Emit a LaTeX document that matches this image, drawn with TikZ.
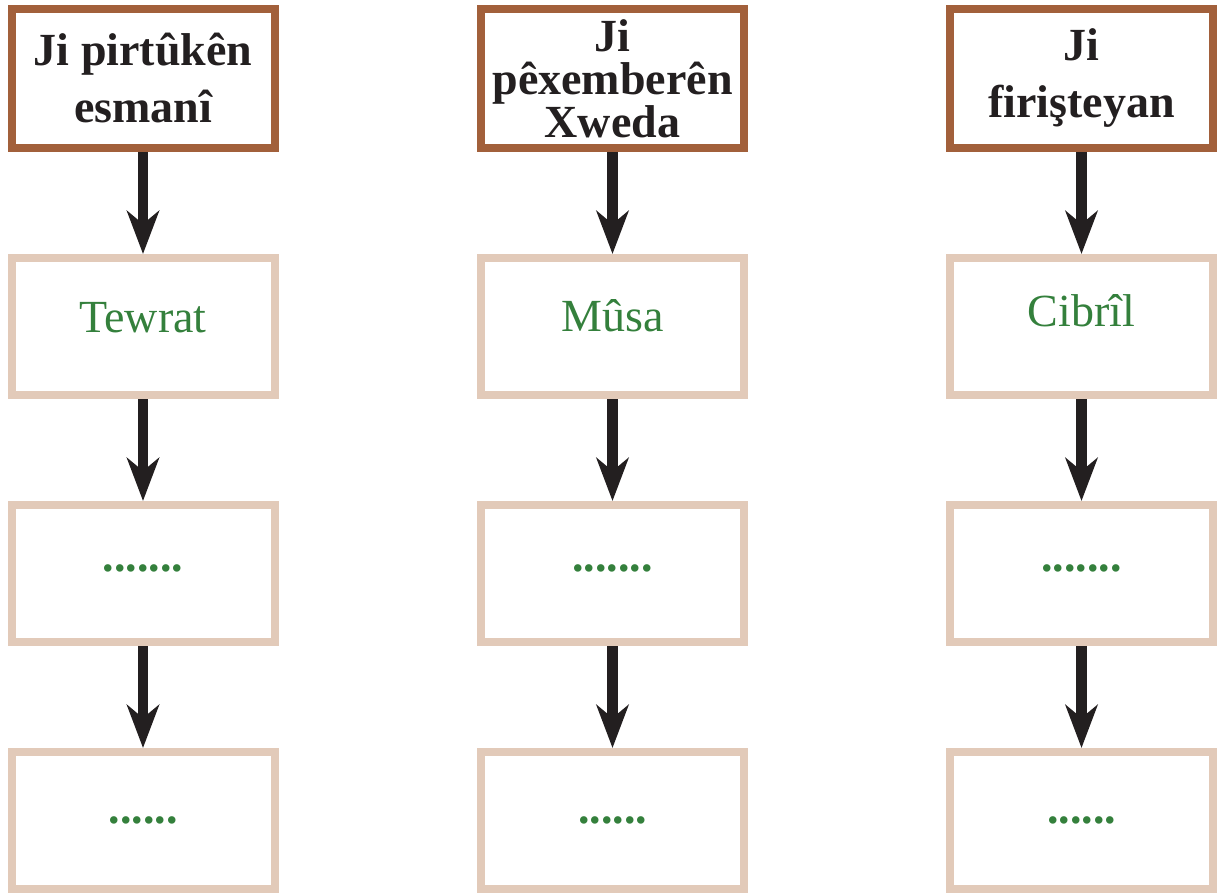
\documentclass[tikz,border=0pt]{standalone}
\usepackage{fontspec}
\setmainfont{Liberation Serif}
\usepackage{tikz}
\usetikzlibrary{arrows.meta, positioning}

\definecolor{headbrown}{RGB}{162,96,59}
\definecolor{itemsand}{RGB}{226,202,185}
\definecolor{itemgreen}{RGB}{52,128,60}
\definecolor{linkblack}{RGB}{35,31,32}

\begin{document}
\begin{tikzpicture}[
        node distance=102pt,
        head/.style={rectangle, draw=headbrown, line width=8pt, minimum width=263pt, minimum height=139pt, inner sep=2pt, align=center, font=\fontsize{46}{57}\selectfont\bfseries, text=linkblack},
        item/.style={rectangle, draw=itemsand, line width=8pt, minimum width=263pt, minimum height=137pt, inner sep=2pt, align=center, font=\fontsize{46}{57}\selectfont, text=itemgreen},
        link/.style={draw=linkblack, line width=10.7pt, -{Stealth[length=43pt, width=32pt, inset=13pt]}}
    ]
    \useasboundingbox (0,0) rectangle (1217pt,-892pt);

    \node [head] (h1) at (143pt,-78.5pt) {Ji pirtûkên\\esmanî};
    \node [head, font=\fontsize{46}{43}\selectfont\bfseries] (h2) at (612.5pt,-78.5pt) {Ji\\pêxemberên\\Xweda};
    \node [head] (h3) at (1081.5pt,-78.5pt) {Ji\\firişteyan};

    \node [item, text depth=18pt, below=of h1] (a1) {Tewrat};
    \node [item, text depth=23pt, below=of h2] (a2) {Mûsa};
    \node [item, text depth=32pt, below=of h3] (a3) {Cibrîl};

    \node [item, text depth=11pt, below=of a1] (b1) {\bfseries .......};
    \node [item, text depth=11pt, below=of a2] (b2) {\bfseries .......};
    \node [item, text depth=11pt, below=of a3] (b3) {\bfseries .......};

    \node [item, below=of b1] (c1) {\bfseries ......};
    \node [item, below=of b2] (c2) {\bfseries ......};
    \node [item, below=of b3] (c3) {\bfseries ......};

    \path [link] (h1) -- (a1);
    \path [link] (a1) -- (b1);
    \path [link] (b1) -- (c1);
    \path [link] (h2) -- (a2);
    \path [link] (a2) -- (b2);
    \path [link] (b2) -- (c2);
    \path [link] (h3) -- (a3);
    \path [link] (a3) -- (b3);
    \path [link] (b3) -- (c3);

\end{tikzpicture}
\end{document}
